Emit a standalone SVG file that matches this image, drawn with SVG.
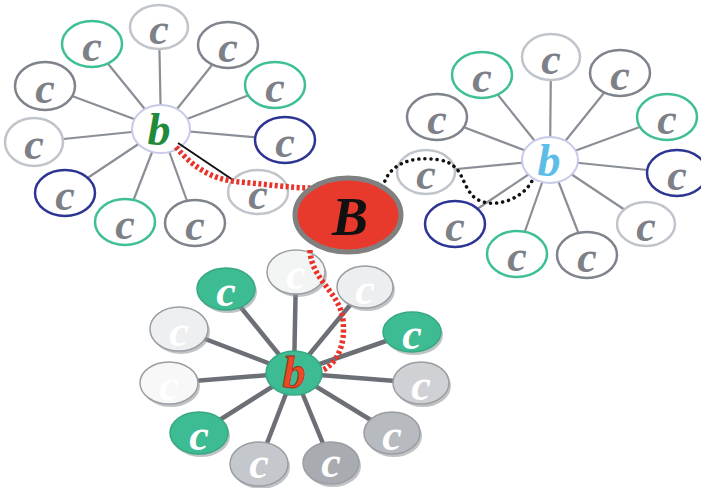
<svg xmlns="http://www.w3.org/2000/svg" width="701" height="488" viewBox="0 0 701 488">
<defs>
<style>
.sp{stroke:#8a8e96;stroke-width:2.2}
.sp2{stroke:#6c7076;stroke-width:4.5}
.n{fill:#fff;stroke-width:2.5}
.g{stroke:#3fbf96}.l{stroke:#c0c4cb}.d{stroke:#7e838c}.u{stroke:#2c3593}
.t{font-family:"Liberation Serif",serif;font-style:italic;font-weight:bold;font-size:44px;fill:#7d8187;text-anchor:middle}
.tw{font-family:"Liberation Serif",serif;font-style:italic;font-weight:bold;font-size:44px;fill:#fff;text-anchor:middle}
.hub{fill:#fff;stroke:#c7cae8;stroke-width:2}
.hb{font-family:"Liberation Serif",serif;font-style:italic;font-weight:bold;font-size:46px;text-anchor:middle}
.f{stroke:#9a9ea3;stroke-width:1.5}
.sh{fill:#8d9196;opacity:0.55}
.rd{fill:none;stroke:#e8322a;stroke-width:5.5;stroke-dasharray:3,2.5}
</style>
</defs>
<rect width="701" height="488" fill="#fff"/>
<g id="connectors">
<g>
<line class="sp" x1="161" y1="129" x2="92" y2="44"/><line class="sp" x1="161" y1="129" x2="159" y2="27"/><line class="sp" x1="161" y1="129" x2="228" y2="45"/><line class="sp" x1="161" y1="129" x2="275" y2="85"/><line class="sp" x1="161" y1="129" x2="285" y2="140"/><line class="sp" x1="161" y1="129" x2="195" y2="223"/><line class="sp" x1="161" y1="129" x2="125" y2="222"/><line class="sp" x1="161" y1="129" x2="65" y2="193"/><line class="sp" x1="161" y1="129" x2="34" y2="142"/><line class="sp" x1="161" y1="129" x2="45" y2="86"/>
</g>
<g>
<line class="sp" x1="550" y1="160" x2="482" y2="75"/><line class="sp" x1="550" y1="160" x2="551" y2="57"/><line class="sp" x1="550" y1="160" x2="620" y2="73"/><line class="sp" x1="550" y1="160" x2="667" y2="117"/><line class="sp" x1="550" y1="160" x2="677" y2="173"/><line class="sp" x1="550" y1="160" x2="646" y2="224"/><line class="sp" x1="550" y1="160" x2="587" y2="255"/><line class="sp" x1="550" y1="160" x2="517" y2="254"/><line class="sp" x1="550" y1="160" x2="455" y2="224"/><line class="sp" x1="550" y1="160" x2="426" y2="172"/><line class="sp" x1="550" y1="160" x2="437" y2="117"/>
</g>
<g>
<line class="sp2" x1="294" y1="373" x2="296" y2="272"/><line class="sp2" x1="294" y1="373" x2="365" y2="287"/><line class="sp2" x1="294" y1="373" x2="412" y2="332"/><line class="sp2" x1="294" y1="373" x2="421" y2="383"/><line class="sp2" x1="294" y1="373" x2="392" y2="433"/><line class="sp2" x1="294" y1="373" x2="331" y2="463"/><line class="sp2" x1="294" y1="373" x2="259" y2="464"/><line class="sp2" x1="294" y1="373" x2="199" y2="433"/><line class="sp2" x1="294" y1="373" x2="169" y2="383"/><line class="sp2" x1="294" y1="373" x2="179" y2="329"/><line class="sp2" x1="294" y1="373" x2="226" y2="289"/>
</g>
</g>
<g id="tl-nodes">
<g id="tl-c1"><ellipse class="n g" cx="92" cy="44" rx="30" ry="23"/><text class="t" x="92" y="61">c</text></g>
<g id="tl-c2"><ellipse class="n l" cx="159" cy="27" rx="29" ry="22"/><text class="t" x="159" y="44">c</text></g>
<g id="tl-c3"><ellipse class="n d" cx="228" cy="45" rx="30" ry="23"/><text class="t" x="228" y="62">c</text></g>
<g id="tl-c4"><ellipse class="n g" cx="275" cy="85" rx="30" ry="23"/><text class="t" x="275" y="102">c</text></g>
<g id="tl-c5"><ellipse class="n u" cx="285" cy="140" rx="30" ry="23"/><text class="t" x="285" y="157">c</text></g>
<g id="tl-c7"><ellipse class="n d" cx="195" cy="223" rx="30" ry="23"/><text class="t" x="195" y="240">c</text></g>
<g id="tl-c8"><ellipse class="n g" cx="125" cy="222" rx="30" ry="23"/><text class="t" x="125" y="239">c</text></g>
<g id="tl-c9"><ellipse class="n u" cx="65" cy="193" rx="30" ry="23"/><text class="t" x="65" y="210">c</text></g>
<g id="tl-c10"><ellipse class="n l" cx="34" cy="142" rx="29" ry="24"/><text class="t" x="34" y="159">c</text></g>
<g id="tl-c11"><ellipse class="n d" cx="45" cy="86" rx="30" ry="24"/><text class="t" x="45" y="103">c</text></g>
<g id="tl-c6"><ellipse class="n l" cx="258" cy="192" rx="30" ry="22"/><text class="t" x="258" y="209">c</text></g>
<g id="tl-b"><ellipse class="hub" cx="161" cy="129" rx="29" ry="24"/><text class="hb" x="159" y="145" fill="#1f8a3a">b</text></g>
</g>
<g id="tr-nodes">
<g id="tr-c1"><ellipse class="n g" cx="482" cy="75" rx="30" ry="23"/><text class="t" x="482" y="92">c</text></g>
<g id="tr-c2"><ellipse class="n l" cx="551" cy="57" rx="29" ry="23"/><text class="t" x="551" y="74">c</text></g>
<g id="tr-c3"><ellipse class="n d" cx="620" cy="73" rx="30" ry="23"/><text class="t" x="620" y="90">c</text></g>
<g id="tr-c4"><ellipse class="n g" cx="667" cy="117" rx="30" ry="23"/><text class="t" x="667" y="134">c</text></g>
<g id="tr-c5"><ellipse class="n u" cx="677" cy="173" rx="30" ry="23"/><text class="t" x="677" y="190">c</text></g>
<g id="tr-c6"><ellipse class="n l" cx="646" cy="224" rx="29" ry="22"/><text class="t" x="646" y="241">c</text></g>
<g id="tr-c7"><ellipse class="n d" cx="587" cy="255" rx="30" ry="23"/><text class="t" x="587" y="272">c</text></g>
<g id="tr-c8"><ellipse class="n g" cx="517" cy="254" rx="30" ry="23"/><text class="t" x="517" y="271">c</text></g>
<g id="tr-c9"><ellipse class="n u" cx="455" cy="224" rx="30" ry="23"/><text class="t" x="455" y="241">c</text></g>
<g id="tr-c10"><ellipse class="n l" cx="426" cy="172" rx="29" ry="22"/><text class="t" x="426" y="189">c</text></g>
<g id="tr-c11"><ellipse class="n d" cx="437" cy="117" rx="30" ry="23"/><text class="t" x="437" y="134">c</text></g>
<g id="tr-b"><ellipse class="hub" cx="550" cy="160" rx="28" ry="23"/><text class="hb" x="549" y="176" fill="#5bbde8">b</text></g>
</g>
<g id="bt-nodes">
<g id="bt-c1"><ellipse class="sh" cx="298" cy="275" rx="29" ry="22"/><ellipse class="f" fill="#f3f4f4" cx="296" cy="272" rx="29" ry="22"/><text class="tw" x="296" y="289">c</text></g>
<g id="bt-c2"><ellipse class="sh" cx="367" cy="290" rx="28" ry="21"/><ellipse class="f" fill="#eceeef" cx="365" cy="287" rx="28" ry="21"/><text class="tw" x="365" y="304">c</text></g>
<g id="bt-c3"><ellipse class="sh" cx="414" cy="335" rx="29" ry="20"/><ellipse fill="#3dbb92" stroke="#37a884" stroke-width="1.5" cx="412" cy="332" rx="29" ry="20"/><text class="tw" x="412" y="349">c</text></g>
<g id="bt-c4"><ellipse class="sh" cx="423" cy="386" rx="28" ry="21"/><ellipse class="f" fill="#cfd1d5" cx="421" cy="383" rx="28" ry="21"/><text class="tw" x="421" y="400">c</text></g>
<g id="bt-c5"><ellipse class="sh" cx="394" cy="436" rx="28" ry="21"/><ellipse class="f" fill="#b7babf" cx="392" cy="433" rx="28" ry="21"/><text class="tw" x="392" y="450">c</text></g>
<g id="bt-c6"><ellipse class="sh" cx="333" cy="466" rx="28" ry="21"/><ellipse class="f" fill="#a8abb0" cx="331" cy="463" rx="28" ry="21"/><text class="tw" x="331" y="477" font-size="40">c</text></g>
<g id="bt-c7"><ellipse class="sh" cx="261" cy="467" rx="29" ry="22"/><ellipse class="f" fill="#c4c7cb" cx="259" cy="464" rx="29" ry="22"/><text class="tw" x="259" y="478" font-size="40">c</text></g>
<g id="bt-c8"><ellipse class="sh" cx="201" cy="436" rx="29" ry="21"/><ellipse fill="#3dbb92" stroke="#37a884" stroke-width="1.5" cx="199" cy="433" rx="29" ry="21"/><text class="tw" x="199" y="450">c</text></g>
<g id="bt-c9"><ellipse class="sh" cx="171" cy="386" rx="29" ry="21"/><ellipse class="f" fill="#f8f8f8" cx="169" cy="383" rx="29" ry="21"/><text class="tw" x="169" y="400">c</text></g>
<g id="bt-c10"><ellipse class="sh" cx="181" cy="332" rx="29" ry="22"/><ellipse class="f" fill="#eeeff0" cx="179" cy="329" rx="29" ry="22"/><text class="tw" x="179" y="346">c</text></g>
<g id="bt-c11"><ellipse class="sh" cx="228" cy="292" rx="29" ry="21"/><ellipse fill="#3dbb92" stroke="#37a884" stroke-width="1.5" cx="226" cy="289" rx="29" ry="21"/><text class="tw" x="226" y="306">c</text></g>
<g id="bt-b"><ellipse fill="#3dbb92" stroke="#37a884" stroke-width="1.5" cx="294" cy="373" rx="28" ry="22"/><text class="hb" x="294" y="388" fill="#ea4b26" stroke="#9b2a14" stroke-width="0.8">b</text></g>
</g>
<g id="links">
<line x1="178" y1="143" x2="233" y2="180" stroke="#111" stroke-width="2"/>
<path class="rd" d="M176,147 C195,170 215,180 240,182 C265,184 290,188 312,188"/>
<path class="rd" d="M310,250 C311,280 340,292 343,320 C346,348 335,364 323,370"/>
<path d="M383,187 C388,165 410,155 440,160 C465,165 460,185 475,198 C492,210 522,200 532,181" fill="none" stroke="#111" stroke-width="3.5" stroke-linecap="round" stroke-dasharray="0.1,6"/>
</g>
<g id="B"><ellipse cx="348" cy="215" rx="53" ry="37" fill="#e83a2c" stroke="#808080" stroke-width="5"/><text x="350" y="235" font-family="Liberation Serif, serif" font-style="italic" font-weight="bold" font-size="54" fill="#111" text-anchor="middle">B</text></g>
</svg>
